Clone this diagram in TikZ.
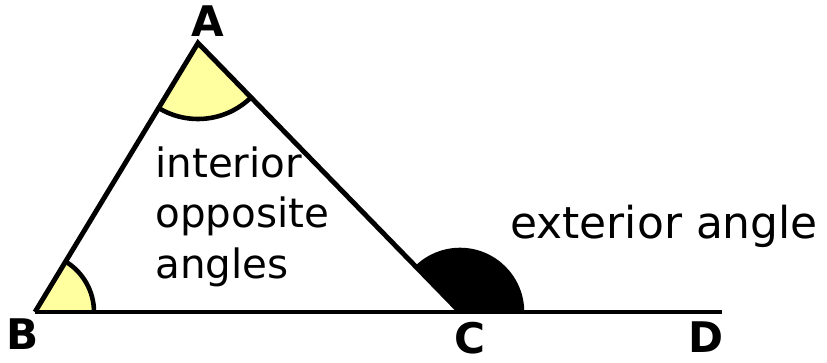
\documentclass[tikz,border=0pt]{standalone}
\usepackage{fontspec}
\setmainfont{DejaVu Sans}
\usetikzlibrary{angles}
\definecolor{cYellow}{RGB}{255,255,160}
\tikzset{
  side/.style={line width=2.8pt},
  %% angle marks
  angIn/.style={draw, fill=cYellow, line width=2.6pt},
  angEx/.style={draw, fill=black, line width=2.6pt},
  %% labels
  vlabel/.style={font=\fontsize{24}{28}\selectfont\bfseries, inner sep=0pt},
  note/.style={font=\fontsize{23}{28.5}\selectfont, inner sep=0pt, align=left},
}

\begin{document}
\begin{tikzpicture}
\useasboundingbox (0,0) rectangle (16.54,7.24);

%% ----- vertices -----
\coordinate (A) at (3.96,6.38);
\coordinate (B) at (0.70,1.00);
\coordinate (C) at (9.20,1.00);
\coordinate (D) at (14.44,1.00);

%% ----- angle marks -----
\pic[angIn, angle radius=1.52cm] {angle=B--A--C};
\pic[angIn, angle radius=1.18cm] {angle=C--B--A};
\pic[angEx, angle radius=1.24cm] {angle=D--C--A};

%% ----- sides -----
\draw[side] (B) -- (D);
\draw[side] (B) -- (A) -- (C);

%% ----- vertex labels -----
\node[vlabel] (lA) at (4.16,6.82) {A};
\node[vlabel] (lB) at (0.46,0.56) {B};
\node[vlabel] (lC) at (9.40,0.48) {C};
\node[vlabel] (lD) at (14.12,0.50) {D};

%% ----- notes -----
\node[note, anchor=base west] (inter) at (3.10,1.68) {interior\\opposite\\angles};
\node[note, anchor=base west, font=\fontsize{25}{30}\selectfont] (exter) at (10.20,2.48) {exterior angle};

\end{tikzpicture}
\end{document}
